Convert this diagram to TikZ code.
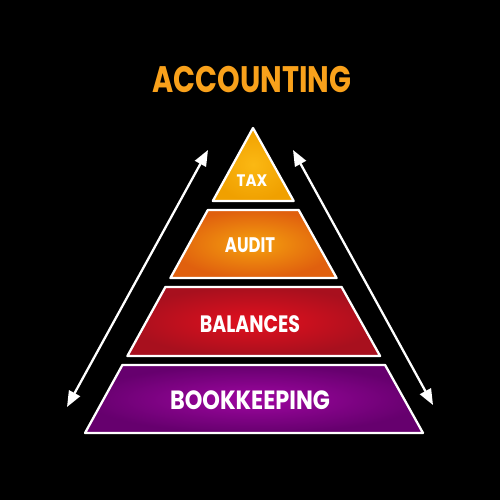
\documentclass[tikz,border=0pt]{standalone}
\usepackage{fontspec}
\setmainfont{Poppins}
\usetikzlibrary{arrows.meta}
\definecolor{titlecol}{HTML}{F9A11B}
\definecolor{taxin}{HTML}{FBB813}\definecolor{taxout}{HTML}{F0A000}
\definecolor{audin}{HTML}{F5A00E}\definecolor{audout}{HTML}{E0600E}
\definecolor{balin}{HTML}{E2101E}\definecolor{balout}{HTML}{A8101E}
\definecolor{bookin}{HTML}{9E06A0}\definecolor{bookout}{HTML}{66006E}
\tikzset{
  layer/.style={draw=white, line width=1.3pt, line join=round},
  lbl/.style={text=white, font=\bfseries, inner sep=0pt},
  dblarrow/.style={white, line width=1.3pt, {Triangle[length=9pt,width=7pt]}-{Triangle[length=9pt,width=7pt]}}
}
\begin{document}
\begin{tikzpicture}[x=0.02cm, y=-0.02cm]
\fill[black] (0,0) rectangle (500,500);
\useasboundingbox (0,0) rectangle (500,500);
% layers
\shade[layer, inner color=taxin, outer color=taxout] (253,128) -- (293.7,201) -- (212.8,201) -- cycle;
\shade[layer, inner color=audin, outer color=audout] (207.8,210) -- (298.7,210) -- (336.6,278) -- (170.4,278) -- cycle;
\shade[layer, inner color=balin, outer color=balout] (165.4,287) -- (341.6,287) -- (380.1,356) -- (127.4,356) -- cycle;
\shade[layer, inner color=bookin, outer color=bookout] (122.4,365) -- (385.1,365) -- (423,433) -- (85,433) -- cycle;
% labels
\node[text=titlecol, font=\bfseries\fontsize{21}{24}\selectfont, inner sep=0pt] (title) at (252,79) {\scalebox{0.78}[1]{ACCOUNTING}};
\node[lbl, font=\bfseries\fontsize{9.5}{12}\selectfont] (tax) at (252,181) {\scalebox{0.9}[1]{TAX}};
\node[lbl, font=\bfseries\fontsize{12}{14}\selectfont] (audit) at (250,245) {\scalebox{0.78}[1]{AUDIT}};
\node[lbl, font=\bfseries\fontsize{13.5}{16}\selectfont] (balances) at (250,324) {\scalebox{0.8}[1]{BALANCES}};
\node[lbl, font=\bfseries\fontsize{15}{18}\selectfont] (bookkeeping) at (250,400) {\scalebox{0.85}[1]{BOOKKEEPING}};
% arrows
\coordinate (lt) at (208,150);
\coordinate (lb) at (67,407);
\coordinate (rt) at (293,150);
\coordinate (rb) at (433,405);
\draw[dblarrow] (lt) -- (lb);
\draw[dblarrow] (rt) -- (rb);
\end{tikzpicture}
\end{document}
